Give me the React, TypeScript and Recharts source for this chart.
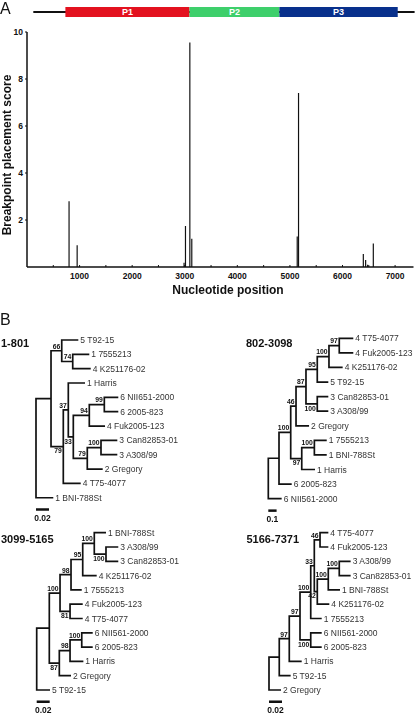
import React from 'react';
import { ComposedChart, BarChart, Bar, Line, Scatter, XAxis, YAxis, LabelList } from 'recharts';

const FONT = 'Arial, "Liberation Sans", Helvetica, sans-serif';

// ---------- Panel A data ----------
const breakpointPositions = [801, 955, 2988, 3015, 3098, 3135, 5140, 5165, 6397, 6441, 6479, 6587];
const breakpointScores = [2.8, 0.93, 0.18, 1.75, 9.55, 1.2, 1.3, 7.4, 0.55, 0.3, 0.1, 1.0];
const xTicks = [500, 1000, 1500, 2000, 2500, 3000, 3500, 4000, 4500, 5000, 5500, 6000, 6500, 7000];
const yTicks = [2, 4, 6, 8, 10];

const genomeLength = 7371;
const genomeLineStart = 120;
const regionNames = ['P1', 'P2', 'P3'];
const regionStarts = [730, 3090, 4800];
const regionEnds = [3090, 4800, 7050];
const regionColors = ['#e3121f', '#3ecf6b', '#08308c'];

// ---------- Panel B data: [id, parent, branch length, label] ----------
type Rec = [string, string | null, number, string];

const tree1: Rec[] = [
  ['root', null, 0, ''],
  ['a', 'root', 0.0231, ''],
  ['b66', 'a', 0.0165, '66'],
  ['l1', 'b66', 0.0255, '5 T92-15'],
  ['b74', 'b66', 0.0169, '74'],
  ['l2', 'b74', 0.0255, '1 7555213'],
  ['l3', 'b74', 0.0277, '4 K251176-02'],
  ['b79', 'a', 0.0189, '79'],
  ['b37', 'b79', 0.0077, '37'],
  ['l4', 'b37', 0.0257, '1 Harris'],
  ['b33', 'b37', 0.0077, '33'],
  ['b94', 'b33', 0.0246, '94'],
  ['b99', 'b94', 0.0231, '99'],
  ['l5', 'b99', 0.0215, '6 NII651-2000'],
  ['l6', 'b99', 0.0215, '6 2005-823'],
  ['l7', 'b94', 0.0242, '4 Fuk2005-123'],
  ['b79b', 'b33', 0.0215, '79'],
  ['b100', 'b79b', 0.0211, '100'],
  ['l8', 'b100', 0.0251, '3 Can82853-01'],
  ['l9', 'b100', 0.0251, '3 A308/99'],
  ['l10', 'b79b', 0.0237, '2 Gregory'],
  ['l11', 'b79', 0.0268, '4 T75-4077'],
  ['l12', 'root', 0.0266, '1 BNI-788St'],
];
const tree1Below = ['b33', 'b79'];

const tree2: Rec[] = [
  ['root', null, 0, ''],
  ['q', 'root', 0.129, ''],
  ['p', 'q', 0.141, '100'],
  ['n46', 'p', 0.064, '46'],
  ['n87', 'n46', 0.12, '87'],
  ['n95', 'n87', 0.136, '95'],
  ['n100', 'n95', 0.141, '100'],
  ['n97', 'n100', 0.124, '97'],
  ['l1', 'n97', 0.169, '4 T75-4077'],
  ['l2', 'n97', 0.169, '4 Fuk2005-123'],
  ['l3', 'n100', 0.165, '4 K251176-02'],
  ['l4', 'n95', 0.133, '5 T92-15'],
  ['n100b', 'n87', 0.136, '100'],
  ['l5', 'n100b', 0.133, '3 Can82853-01'],
  ['l6', 'n100b', 0.133, '3 A308/99'],
  ['l7', 'n46', 0.157, '2 Gregory'],
  ['n97b', 'p', 0.133, '97'],
  ['n100d', 'n97b', 0.152, '100'],
  ['l8', 'n100d', 0.149, '1 7555213'],
  ['l9', 'n100d', 0.149, '1 BNI-788St'],
  ['l10', 'n97b', 0.16, '1 Harris'],
  ['l11', 'q', 0.153, '6 2005-823'],
  ['l12', 'root', 0.161, '6 NII561-2000'],
];
const tree2Below = ['n100b', 'n97b'];

const tree3: Rec[] = [
  ['root', null, 0, ''],
  ['nx', 'root', 0.0194, ''],
  ['c100', 'nx', 0.0165, '100'],
  ['n98', 'c100', 0.0169, '98'],
  ['n95', 'n98', 0.018, '95'],
  ['a100', 'n95', 0.0178, '100'],
  ['l1', 'a100', 0.018, '1 BNI-788St'],
  ['b100', 'a100', 0.018, '100'],
  ['l2', 'b100', 0.0189, '3 A308/99'],
  ['l3', 'b100', 0.0189, '3 Can82853-01'],
  ['l4', 'n95', 0.0215, '4 K251176-02'],
  ['l5', 'n98', 0.0165, '1 7555213'],
  ['n81', 'c100', 0.0154, '81'],
  ['l6', 'n81', 0.0195, '4 Fuk2005-123'],
  ['l7', 'n81', 0.0195, '4 T75-4077'],
  ['n87', 'nx', 0.0154, '87'],
  ['n98b', 'n87', 0.0165, '98'],
  ['d100', 'n98b', 0.018, '100'],
  ['l8', 'd100', 0.0169, '6 NII561-2000'],
  ['l9', 'd100', 0.0169, '6 2005-823'],
  ['l10', 'n98b', 0.0205, '1 Harris'],
  ['l11', 'n87', 0.018, '2 Gregory'],
  ['l12', 'root', 0.0205, '5 T92-15'],
];
const tree3Below = ['b100', 'n81', 'n87'];

const tree4: Rec[] = [
  ['root', null, 0, ''],
  ['ny', 'root', 0.0158, ''],
  ['n97b', 'ny', 0.0154, '97'],
  ['n97a', 'n97b', 0.0165, '97'],
  ['c100', 'n97a', 0.0165, '100'],
  ['n33', 'c100', 0.0055, '33'],
  ['n46', 'n33', 0.0088, '46'],
  ['l1', 'n46', 0.0128, '4 T75-4077'],
  ['l2', 'n46', 0.0128, '4 Fuk2005-123'],
  ['n42', 'n33', 0.0046, '42'],
  ['b100', 'n42', 0.0169, '100'],
  ['a100', 'b100', 0.0169, '100'],
  ['l3', 'a100', 0.0175, '3 A308/99'],
  ['l4', 'a100', 0.0175, '3 Can82853-01'],
  ['l5', 'b100', 0.018, '1 BNI-788St'],
  ['l6', 'n42', 0.0185, '4 K251176-02'],
  ['l7', 'c100', 0.0169, '1 7555213'],
  ['d100', 'n97a', 0.0165, '100'],
  ['l8', 'd100', 0.0169, '6 NII561-2000'],
  ['l9', 'd100', 0.0169, '6 2005-823'],
  ['l10', 'n97b', 0.0191, '1 Harris'],
  ['l11', 'ny', 0.0175, '5 T92-15'],
  ['l12', 'root', 0.0185, '2 Gregory'],
];
const tree4Below = ['n42', 'd100'];

const treeTitles = ['1-801', '802-3098', '3099-5165', '5166-7371'];
const scaleValues = [0.02, 0.1, 0.02, 0.02];
const scaleLabels = ['0.02', '0.1', '0.02', '0.02'];

// ---------- helpers ----------
function layoutTree(recs: Rec[], below: string[]) {
  const kids: Record<string, string[]> = {};
  const byId: Record<string, Rec> = {};
  recs.forEach((r) => {
    byId[r[0]] = r;
    if (r[1]) (kids[r[1]] = kids[r[1]] || []).push(r[0]);
  });
  const pos: Record<string, { x: number; y: number }> = {};
  let row = 0;
  const visit = (id: string, px: number): { x: number; y: number } => {
    const x = px + byId[id][2];
    const ch = kids[id] || [];
    if (!ch.length) {
      pos[id] = { x, y: row++ };
      return pos[id];
    }
    const ps = ch.map((c) => visit(c, x));
    pos[id] = { x, y: (ps[0].y + ps[ps.length - 1].y) / 2 };
    return pos[id];
  };
  const root = recs.find((r) => !r[1])!;
  visit(root[0], 0);
  const branches: { x: number; y: number | null }[] = [];
  const leaves: any[] = [];
  const boots: any[] = [];
  recs.forEach((r) => {
    const id = r[0];
    const ch = kids[id];
    const p = pos[id];
    if (!ch) {
      leaves.push({ x: p.x, y: p.y, name: r[3] });
      return;
    }
    if (r[3]) boots.push({ x: p.x, y: p.y, name: r[3], below: below.includes(id) });
    const f = pos[ch[0]];
    const l = pos[ch[ch.length - 1]];
    branches.push({ x: f.x, y: f.y }, { x: p.x, y: f.y }, { x: p.x, y: l.y }, { x: l.x, y: l.y }, { x: l.x, y: null });
    ch.slice(1, -1).forEach((c) => {
      branches.push({ x: p.x, y: pos[c].y }, { x: pos[c].x, y: pos[c].y }, { x: pos[c].x, y: null });
    });
  });
  return { branches, leaves, boots, leafCount: row };
}

const LeafText = (p: any) => (
  <text x={p.cx + 2} y={p.cy + 3} fontSize={8.5} fill="#333" fontFamily={FONT}>
    {p.payload.name}
  </text>
);
const BootText = (p: any) => (
  <text
    x={p.cx - 1.5}
    y={p.payload.below ? p.cy + 6.8 : p.cy - 2.2}
    textAnchor="end"
    fontSize={6.8}
    fontWeight="bold"
    fill="#111"
    fontFamily={FONT}
  >
    {p.payload.name}
  </text>
);
const ScaleText = (p: any) => (
  <text x={p.cx} y={p.cy + 11.5} textAnchor="middle" fontSize={8.5} fontWeight="bold" fill="#111" fontFamily={FONT}>
    {p.payload.name}
  </text>
);

type Box = { left: number; top: number; width: number; height: number; rootPx: number; firstRowPx: number; rowH: number; ppu: number };

function TreePanel({ recs, below, scaleValue, scaleLabel, box }: { recs: Rec[]; below: string[]; scaleValue: number; scaleLabel: string; box: Box }) {
  const { left, top, width, height, rootPx, firstRowPx, rowH, ppu } = box;
  const lay = layoutTree(recs, below);
  const xDomain = [(left - rootPx) / ppu, (left + width - rootPx) / ppu];
  const yDomain = [(top - firstRowPx) / rowH, (top + height - firstRowPx) / rowH];
  const barY = lay.leafCount - 1 + 0.82;
  const scaleLine = [{ x: 0, y: barY }, { x: scaleValue, y: barY }];
  const scaleText = [{ x: scaleValue / 2, y: barY, name: scaleLabel }];
  return (
    <div style={{ position: 'absolute', left, top, width, height, willChange: 'transform' }}>
      <ComposedChart width={width} height={height} margin={{ top: 0, right: 0, bottom: 0, left: 0 }}>
        <XAxis type="number" dataKey="x" domain={xDomain} hide allowDataOverflow />
        <YAxis type="number" dataKey="y" domain={yDomain} hide reversed allowDataOverflow />
        <Line data={lay.branches} dataKey="y" stroke="#111" strokeWidth={1.7} dot={false} activeDot={false} isAnimationActive={false} connectNulls={false} />
        <Line data={scaleLine} dataKey="y" stroke="#111" strokeWidth={2.5} dot={false} activeDot={false} isAnimationActive={false} />
        <Scatter data={lay.leaves} dataKey="y" shape={LeafText} isAnimationActive={false} />
        <Scatter data={lay.boots} dataKey="y" shape={BootText} isAnimationActive={false} />
        <Scatter data={scaleText} dataKey="y" shape={ScaleText} isAnimationActive={false} />
      </ComposedChart>
    </div>
  );
}

const bpData = breakpointPositions.map((pos, i) => ({ pos, score: breakpointScores[i] }));
const genomeRow: any = { name: 'genome', pad: regionStarts[0] };
regionNames.forEach((n, i) => (genomeRow[n] = regionEnds[i] - regionStarts[i]));
const genomeLineRow = [{ name: 'genome', lead: genomeLineStart, body: genomeLength - genomeLineStart }];

const PX_PER_NT = 386.5 / 7350;
const genomeMargin = { top: 6, bottom: 7, left: 27, right: 416 - 27 - genomeLength * PX_PER_NT };
const tickStyle = { fontSize: 8.5, fontWeight: 'bold', fill: '#111', fontFamily: FONT };

const boxes: Box[] = [
  { left: 30, top: 328, width: 175, height: 200, rootPx: 36, firstRowPx: 340, rowH: 14.34, ppu: 650 },
  { left: 250, top: 326, width: 166, height: 202, rootPx: 268.3, firstRowPx: 338.3, rowH: 14.58, ppu: 83 },
  { left: 30, top: 522, width: 175, height: 194, rootPx: 36.7, firstRowPx: 532.7, rowH: 14.3, ppu: 650 },
  { left: 250, top: 522, width: 166, height: 194, rootPx: 269, firstRowPx: 532.7, rowH: 14.3, ppu: 650 },
];
const treeRecs = [tree1, tree2, tree3, tree4];
const treeBelow = [tree1Below, tree2Below, tree3Below, tree4Below];

export default function App() {
  return (
    <div style={{ position: 'absolute', left: 0, top: 0, width: 416, height: 716, background: '#fff', overflow: 'hidden' }}>
      {/* genome line */}
      <div style={{ position: 'absolute', left: 0, top: 0 }}>
        <BarChart width={416} height={24} layout="vertical" data={genomeLineRow} margin={genomeMargin} barCategoryGap={0}>
          <XAxis type="number" domain={[0, genomeLength]} hide />
          <YAxis type="category" dataKey="name" hide />
          <Bar dataKey="lead" stackId="g" fill="transparent" barSize={2} isAnimationActive={false} />
          <Bar dataKey="body" stackId="g" fill="#111" barSize={2} isAnimationActive={false} />
        </BarChart>
      </div>
      {/* genome regions */}
      <div style={{ position: 'absolute', left: 0, top: 0 }}>
        <BarChart width={416} height={24} layout="vertical" data={[genomeRow]} margin={genomeMargin} barCategoryGap={0}>
          <XAxis type="number" domain={[0, genomeLength]} hide />
          <YAxis type="category" dataKey="name" hide />
          <Bar dataKey="pad" stackId="r" fill="transparent" barSize={11} isAnimationActive={false} />
          {regionNames.map((n, i) => (
            <Bar key={n} dataKey={n} stackId="r" fill={regionColors[i]} barSize={11} isAnimationActive={false}>
              <LabelList dataKey={n} position="center" formatter={() => n} fill="#fff" fontSize={9} fontWeight="bold" fontFamily={FONT} />
            </Bar>
          ))}
        </BarChart>
      </div>
      {/* breakpoint chart */}
      <div style={{ position: 'absolute', left: 0, top: 0 }}>
        <ComposedChart width={416} height={300} data={bpData} margin={{ top: 32, right: 2.5, bottom: 0, left: 0 }}>
          <XAxis
            type="number"
            dataKey="pos"
            domain={[0, 7350]}
            ticks={xTicks}
            tickFormatter={(v: number) => (v % 1000 === 0 ? String(v) : '')}
            height={33}
            tickSize={-2}
            tickMargin={8}
            axisLine={{ stroke: '#111', strokeWidth: 1.5 }}
            tickLine={{ stroke: '#111' }}
            tick={tickStyle}
            allowDataOverflow
          />
          <YAxis
            type="number"
            domain={[0, 10]}
            ticks={yTicks}
            width={27}
            tickSize={2}
            tickMargin={2}
            axisLine={{ stroke: '#111', strokeWidth: 1.5 }}
            tickLine={{ stroke: '#111' }}
            tick={tickStyle}
            allowDataOverflow
          />
          <Bar dataKey="score" fill="#111" barSize={2.5} isAnimationActive={false} />
        </ComposedChart>
      </div>
      {/* trees */}
      {treeRecs.map((r, i) => (
        <TreePanel key={i} recs={r} below={treeBelow[i]} scaleValue={scaleValues[i]} scaleLabel={scaleLabels[i]} box={boxes[i]} />
      ))}
      {/* text overlay */}
      <svg width={416} height={716} style={{ position: 'absolute', left: 0, top: 0, pointerEvents: 'none' }} fontFamily={FONT}>
        <text x={0} y={13.5} fontSize={16} fill="#111">A</text>
        <text x={0} y={325} fontSize={16} fill="#111">B</text>
        <text x={10.5} y={155} transform="rotate(-90 10.5 155)" textAnchor="middle" fontSize={12} fontWeight="bold" fill="#111">
          Breakpoint placement score
        </text>
        <text x={228} y={294} textAnchor="middle" fontSize={12} fontWeight="bold" fill="#111">
          Nucleotide position
        </text>
        <text x={1} y={347} fontSize={11} fontWeight="bold" fill="#111">{treeTitles[0]}</text>
        <text x={246} y={347} fontSize={11} fontWeight="bold" fill="#111">{treeTitles[1]}</text>
        <text x={1} y={542.5} fontSize={11} fontWeight="bold" fill="#111">{treeTitles[2]}</text>
        <text x={246.5} y={542.5} fontSize={11} fontWeight="bold" fill="#111">{treeTitles[3]}</text>
      </svg>
    </div>
  );
}
